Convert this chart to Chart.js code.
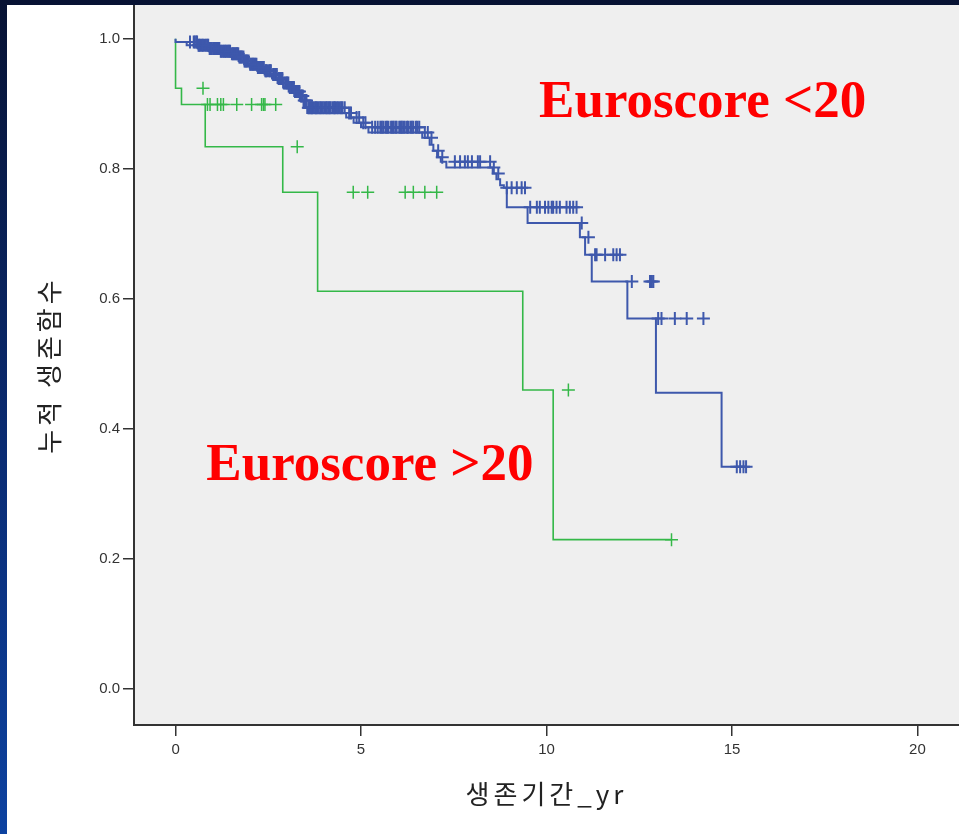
<!DOCTYPE html>
<html>
<head>
<meta charset="utf-8">
<script src="https://cdn.jsdelivr.net/npm/chart.js@4"></script>
<style>
  html, body { margin: 0; padding: 0; }
  body {
    width: 959px; height: 834px; position: relative; overflow: hidden;
    background: linear-gradient(to bottom, #071233 0%, #0a2c74 55%, #0d42a0 100%);
  }
  #panel { position: absolute; left: 7px; top: 5px; width: 952px; height: 829px; background: #fff; }
  canvas { display: block; }
</style>
</head>
<body>
<div id="panel"><canvas id="km" width="952" height="829"></canvas></div>
<script>
const xTicks = [0, 5, 10, 15, 20];
const yTicks = [0, 0.2, 0.4, 0.6, 0.8, 1.0];

// Euroscore <20 : step times (yr) and survival after each step
const lowTimes = [0, 0.30, 0.60, 0.90, 1.20, 1.50, 1.70, 1.85, 2.00, 2.20, 2.40, 2.60, 2.75, 2.90, 3.05,
  3.20, 3.35, 3.45, 3.55, 4.60, 4.80, 5.00, 5.20, 6.65, 6.85, 6.95, 7.05, 7.15, 7.30, 8.55, 8.65,
  8.75, 8.85, 8.93, 9.49, 10.90, 11.04, 11.22, 12.18, 12.95, 14.72, 15.03, 15.38];
const lowSurv = [1.000, 0.995, 0.990, 0.985, 0.981, 0.977, 0.972, 0.966, 0.961, 0.956, 0.951, 0.945, 0.939,
  0.932, 0.925, 0.919, 0.912, 0.905, 0.894, 0.886, 0.879, 0.871, 0.864, 0.856, 0.848, 0.837, 0.828,
  0.818, 0.811, 0.802, 0.793, 0.784, 0.775, 0.771, 0.741, 0.717, 0.695, 0.668, 0.627, 0.570, 0.456,
  0.342, 0.342];
const lowCensored = [0.39, 0.49, 0.52, 0.56, 0.58, 0.62, 0.64, 0.67, 0.71, 0.74, 0.78, 0.82, 0.86, 0.88,
  0.92, 0.95, 0.98, 1.02, 1.05, 1.08, 1.11, 1.13, 1.16, 1.18, 1.22, 1.24, 1.28, 1.31, 1.34, 1.36, 1.40,
  1.42, 1.45, 1.47, 1.52, 1.55, 1.58, 1.61, 1.64, 1.66, 1.69, 1.72, 1.74, 1.77, 1.79, 1.83, 1.86, 1.88,
  1.91, 1.93, 1.97, 2.01, 2.04, 2.07, 2.09, 2.12, 2.15, 2.18, 2.22, 2.24, 2.27, 2.29, 2.32, 2.35, 2.38,
  2.42, 2.44, 2.47, 2.52, 2.55, 2.57, 2.63, 2.66, 2.68, 2.71, 2.73, 2.78, 2.80, 2.83, 2.86, 2.88, 2.92,
  2.96, 2.99, 3.01, 3.04, 3.08, 3.11, 3.14, 3.16, 3.19, 3.22, 3.26, 3.29, 3.31, 3.34, 3.38, 3.40, 3.43,
  3.47, 3.50, 3.53, 3.58, 3.61, 3.65, 3.68, 3.71, 3.76, 3.79, 3.82, 3.86, 3.90, 3.93, 3.97, 4.01, 4.05,
  4.08, 4.12, 4.15, 4.18, 4.23, 4.27, 4.30, 4.34, 4.38, 4.43, 4.47, 4.50, 4.56, 4.68, 4.73, 4.88, 4.95,
  5.06, 5.12, 5.30, 5.38, 5.45, 5.52, 5.56, 5.60, 5.66, 5.70, 5.74, 5.81, 5.85, 5.88, 5.93, 5.96, 6.03,
  6.07, 6.10, 6.14, 6.18, 6.24, 6.27, 6.33, 6.37, 6.41, 6.48, 6.52, 6.57, 6.72, 6.80, 6.90, 7.08, 7.19,
  7.53, 7.67, 7.80, 7.88, 7.99, 8.15, 8.21, 8.48, 8.58, 8.70, 8.93, 9.06, 9.20, 9.33, 9.42, 9.56, 9.74,
  9.82, 9.96, 10.05, 10.14, 10.18, 10.27, 10.36, 10.54, 10.63, 10.72, 10.81, 10.95, 11.13, 11.31, 11.35,
  11.58, 11.80, 11.89, 11.98, 12.30, 12.79, 12.84, 12.88, 13.01, 13.10, 13.46, 13.78, 14.23, 15.13,
  15.22, 15.31, 15.38];

// Euroscore >20
const highTimes = [0, 0, 0.16, 0.80, 2.89, 3.83, 9.36, 10.18, 11.98, 13.37];
const highSurv = [1.000, 0.950, 0.924, 0.899, 0.834, 0.764, 0.612, 0.460, 0.230, 0.230];
const highCensored = [0.74, 0.86, 0.93, 1.13, 1.22, 1.29, 1.65, 2.05, 2.32, 2.37, 2.41, 2.70, 3.28,
  4.79, 5.18, 6.19, 6.41, 6.72, 7.04, 10.59, 13.37];

const groupLabels = ['Euroscore <20', 'Euroscore >20'];

function survAt(times, surv, t) {
  let s = surv[0];
  for (let i = 0; i < times.length; i++) if (times[i] <= t) s = surv[i];
  return s;
}
const curve = (times, surv) => times.map((t, i) => ({ x: t, y: surv[i] }));
const marks = (cens, times, surv) => cens.map(t => ({ x: t, y: survAt(times, surv, t) }));

const blue = '#3e58ac';
const green = '#34b848';

const plotBg = {
  id: 'plotBg',
  beforeDraw(chart) {
    const { ctx, chartArea: a } = chart;
    ctx.save();
    ctx.fillStyle = '#efefef';
    ctx.fillRect(a.left, a.top, a.right - a.left, a.bottom - a.top);
    ctx.restore();
  }
};

const groupText = {
  id: 'groupText',
  afterDatasetsDraw(chart) {
    const { ctx, scales: { x, y } } = chart;
    const spots = [[9.8, 0.88], [0.83, 0.322]];
    ctx.save();
    ctx.fillStyle = '#ff0000';
    ctx.font = 'bold 53px "Liberation Serif", "Times New Roman", serif';
    ctx.textBaseline = 'alphabetic';
    groupLabels.forEach((txt, i) => {
      ctx.fillText(txt, x.getPixelForValue(spots[i][0]), y.getPixelForValue(spots[i][1]));
    });
    ctx.restore();
  }
};

// the SPSS titles are set with wide letter spacing
function spacedTitle(s) {
  if (s._spaced) return;
  const orig = s.drawTitle;
  s.drawTitle = function () {
    const ctx = this.ctx;
    ctx.save();
    ctx.letterSpacing = '4px';
    orig.call(this);
    ctx.restore();
  };
  s._spaced = true;
}

const tickFont = { family: '"Liberation Sans", Arial, sans-serif', size: 15 };
const titleFont = { family: '"Noto Sans CJK KR", sans-serif', size: 26 };

new Chart(document.getElementById('km'), {
  type: 'scatter',
  data: {
    datasets: [
      { label: groupLabels[0] + ' censored', data: marks(lowCensored, lowTimes, lowSurv), showLine: false,
        pointStyle: 'cross', pointRadius: 6.5, borderColor: blue, borderWidth: 2 },
      { label: groupLabels[0], data: curve(lowTimes, lowSurv), showLine: true, stepped: 'after',
        borderColor: blue, borderWidth: 2, pointRadius: 0 },
      { label: groupLabels[1] + ' censored', data: marks(highCensored, highTimes, highSurv), showLine: false,
        pointStyle: 'cross', pointRadius: 6.5, borderColor: green, borderWidth: 1.5 },
      { label: groupLabels[1], data: curve(highTimes, highSurv), showLine: true, stepped: 'after',
        borderColor: green, borderWidth: 1.6, pointRadius: 0 }
    ]
  },
  options: {
    responsive: false,
    animation: false,
    devicePixelRatio: 1,
    layout: { padding: 0, autoPadding: false },
    plugins: { legend: { display: false }, tooltip: { enabled: false } },
    scales: {
      x: {
        type: 'linear', min: -1.12, max: 21.12,
        afterBuildTicks: s => { s.ticks = xTicks.map(v => ({ value: v })); },
        afterFit: s => {
          s.height = 109; s.paddingLeft = 0; s.paddingRight = 0; spacedTitle(s);
        },
        grid: { drawOnChartArea: false, drawTicks: true, tickLength: 11, color: '#333', lineWidth: 1.5 },
        border: { display: true, color: '#333', width: 2 },
        ticks: { color: '#333', font: tickFont, padding: 5, maxRotation: 0, autoSkip: false,
          callback: v => String(v) },
        title: { display: true, text: '생존기간_yr', color: '#222', font: titleFont,
          padding: { top: 0, bottom: 24 } }
      },
      y: {
        type: 'linear', min: -0.055, max: 1.052,
        afterBuildTicks: s => { s.ticks = yTicks.map(v => ({ value: v })); },
        afterFit: s => {
          s.width = 127; s.paddingTop = 0; s.paddingBottom = 0; spacedTitle(s);
        },
        grid: { drawOnChartArea: false, drawTicks: true, tickLength: 11, color: '#333', lineWidth: 1.5 },
        border: { display: true, color: '#333', width: 2 },
        ticks: { color: '#333', font: tickFont, padding: 3, autoSkip: false,
          callback: v => Number(v).toFixed(1) },
        title: { display: true, text: '누적 생존함수', color: '#222', font: titleFont,
          padding: { top: 27, bottom: 0 } }
      }
    }
  },
  plugins: [plotBg, groupText]
});
</script>
</body>
</html>
